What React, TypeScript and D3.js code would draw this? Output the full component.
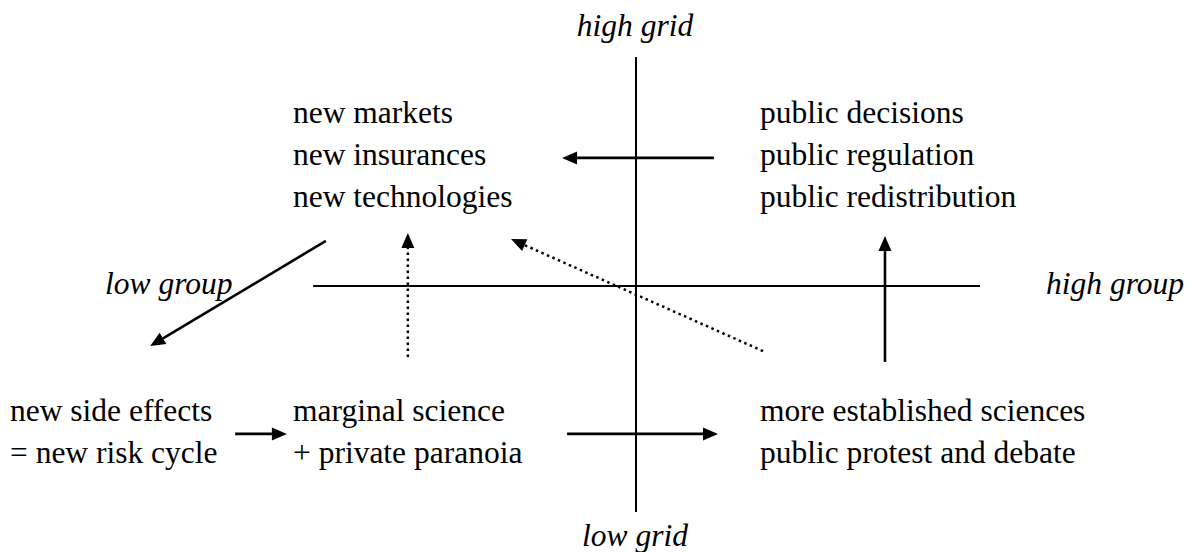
import React from "react";
import * as d3 from "d3";

// quadrant texts (grid/group scheme)
const topLeft = ["new markets", "new insurances", "new technologies"];
const topRight = ["public decisions", "public regulation", "public redistribution"];
const bottomFar = ["new side effects", "= new risk cycle"];
const bottomLeft = ["marginal science", "+ private paranoia"];
const bottomRight = ["more established sciences", "public protest and debate"];
const axisLabels = ["high grid", "low grid", "low group", "high group"];

// arrows in group (x) / grid (y) units, -1 = low, 1 = high
const arrowFrom = [
  [0.232, 0.557],
  [-0.923, 0.196],
  [-0.679, -0.309],
  [0.378, -0.283],
  [0.741, -0.33],
  [-1.193, -0.643],
  [-0.205, -0.643],
];
const arrowTo = [
  [-0.22, 0.557],
  [-1.446, -0.261],
  [-0.679, 0.23],
  [-0.372, 0.204],
  [0.741, 0.217],
  [-1.039, -0.643],
  [0.244, -0.643],
];
const arrowDotted = [false, false, true, true, false, false, false];

const FONT = "Liberation Serif";

export default function App() {
  const width = 1195;
  const height = 552;
  const x = d3.scaleLinear().domain([-1, 1]).range([300, 972]);
  const y = d3.scaleLinear().domain([-1, 1]).range([516, 56]);
  const fs = 31.5;
  const lh = 42;

  const arrows = arrowFrom.map((f, i) => {
    const x1 = x(f[0]), y1 = y(f[1]);
    const x2 = x(arrowTo[i][0]), y2 = y(arrowTo[i][1]);
    const ang = Math.atan2(y2 - y1, x2 - x1);
    const len = 15, hw = 6.5;
    const bx = x2 - len * Math.cos(ang), by = y2 - len * Math.sin(ang);
    const px = -Math.sin(ang) * hw, py = Math.cos(ang) * hw;
    const head = d3.line()([
      [x2, y2],
      [bx + px, by + py],
      [bx - px, by - py],
    ]) + "Z";
    return { x1, y1, bx, by, head, dotted: arrowDotted[i] };
  });

  const label = (t: string, x0: number, y0: number, italic = false, anchor = "start") => (
    <text
      key={t}
      x={x0}
      y={y0}
      fontFamily={FONT}
      fontSize={fs}
      fontStyle={italic ? "italic" : "normal"}
      textAnchor={anchor}
      fill="#000"
    >
      {t}
    </text>
  );

  const block = (lines: string[], x0: number, y0: number) =>
    lines.map((t, i) => label(t, x0, y0 + i * lh));

  return (
    <svg width={width} height={height} style={{ position: "absolute", left: 0, top: 0, background: "#fff" }}>
      <g stroke="#000" strokeWidth={2}>
        <line x1={x(-0.961)} x2={x(1.024)} y1={y(0)} y2={y(0)} />
        <line x1={x(0)} x2={x(0)} y1={y(0.996)} y2={y(-0.983)} />
      </g>
      {arrows.map((a, i) => (
        <g key={i}>
          <line
            x1={a.x1} y1={a.y1} x2={a.bx} y2={a.by}
            stroke="#000"
            strokeWidth={a.dotted ? 2.5 : 2.6}
            strokeDasharray={a.dotted ? "2.5,3.5" : undefined}
          />
          <path d={a.head} fill="#000" />
        </g>
      ))}
      {block(topLeft, 293, 123)}
      {block(topRight, 760, 123)}
      {block(bottomFar, 10, 421)}
      {block(bottomLeft, 293, 421)}
      {block(bottomRight, 760, 421)}
      {label(axisLabels[0], 635, 36, true, "middle")}
      {label(axisLabels[1], 635, 546, true, "middle")}
      {label(axisLabels[2], 105, 294, true)}
      {label(axisLabels[3], 1046, 294, true)}
    </svg>
  );
}
